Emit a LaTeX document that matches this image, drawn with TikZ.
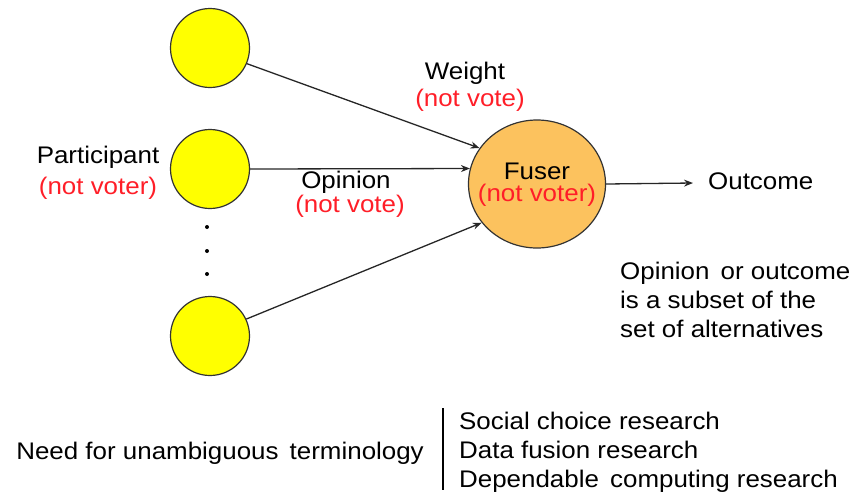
\documentclass[tikz,border=0pt]{standalone}
\usepackage{fontspec}
\setmainfont[FakeStretch=1.08]{Liberation Sans}
\usetikzlibrary{arrows.meta,shapes.geometric}
\definecolor{partyellow}{RGB}{255,255,0}
\definecolor{fuserorange}{RGB}{252,194,94}
\definecolor{notred}{RGB}{255,30,40}
\begin{document}
\begin{tikzpicture}[x=1pt,y=-1pt,
  every node/.style={font=\fontsize{24}{29}\selectfont, inner sep=0pt},
  participant/.style={circle, draw=black!80, line width=1.2pt, fill=partyellow, minimum size=79pt},
  fuser/.style={ellipse, draw=black!80, line width=1.2pt, fill=fuserorange, minimum width=137pt, minimum height=128pt},
  link/.style={draw=black!85, line width=1.3pt, -{Stealth[length=9pt,width=7pt]}},
  redtxt/.style={text=notred},
  dotmark/.style={circle, fill=black, minimum size=4pt}]
\useasboundingbox (0,0) rectangle (855,499);
\node[participant] (p1) at (210,48) {};
\node[participant] (p2) at (210,169) {};
\node[participant] (p3) at (210,336) {};
\node[dotmark] (d1) at (207,227) {};
\node[dotmark] (d2) at (207,251) {};
\node[dotmark] (d3) at (207,274) {};
\node[fuser] (f) at (537,184) {};
\node (fusertxt) at (537,171) {Fuser};
\node[redtxt] (fusernot) at (537,195) {(not voter)};
\coordinate (out) at (693,183);
\node[anchor=west] (outcome) at (708,181) {Outcome};
\draw[link] (p1.-23) -- (f.148);
\draw[link] (p2.east) -- (f.167);
\draw[link] (p3.25) -- (f.-145);
\draw[link] (f.east) -- (out);
\node (weight) at (465,73) {Weight};
\node[redtxt] (weightnot) at (470,100) {(not vote)};
\node (particip) at (98,157) {Participant};
\node[redtxt] (participnot) at (98,188) {(not voter)};
\node (opinion) at (346,182) {Opinion};
\node[redtxt] (opinionnot) at (350,206) {(not vote)};
\node[anchor=west, align=left] (note) at (620,300) {Opinion\, or outcome\\is a subset of the\\set of alternatives};
\node[anchor=east] (need) at (424,453) {Need for unambiguous\, terminology};
\coordinate (vtop) at (443,408);
\coordinate (vbot) at (443,490);
\draw[line width=1.2pt] (vtop) -- (vbot);
\node[anchor=west, align=left] (res) at (459,452) {Social choice research\\Data fusion research\\Dependable\, computing research};
\end{tikzpicture}
\end{document}
